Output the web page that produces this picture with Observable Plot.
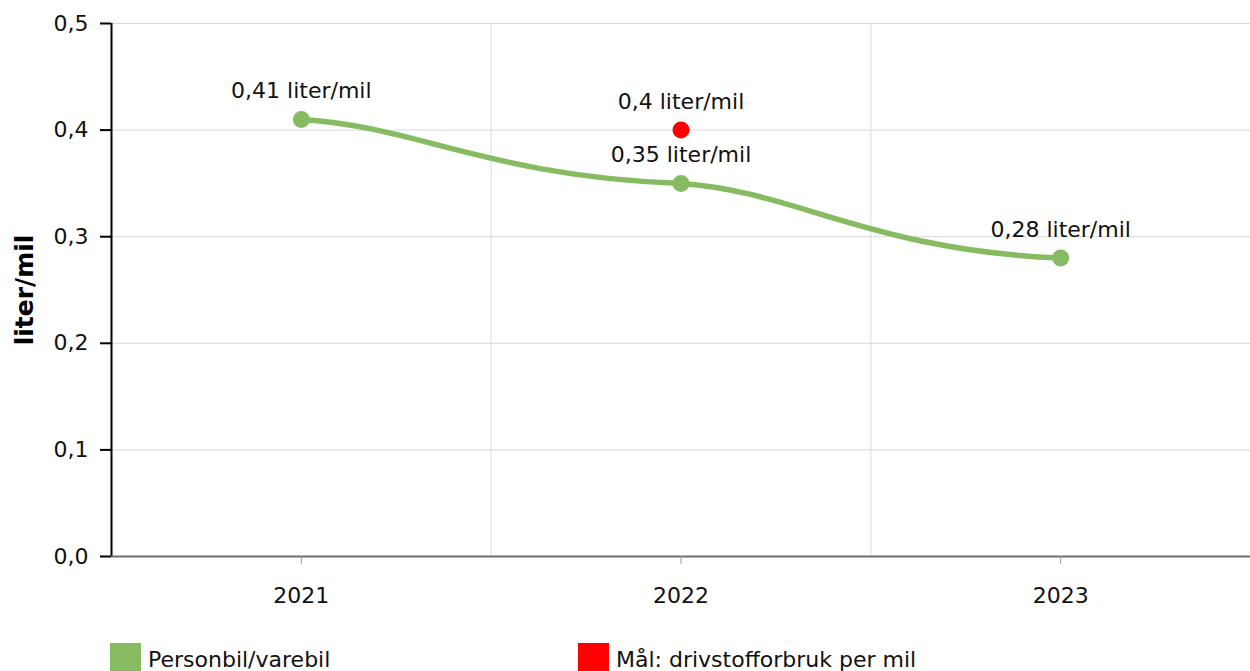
<!DOCTYPE html>
<html>
<head>
<meta charset="utf-8">
<script src="https://cdn.jsdelivr.net/npm/d3@7"></script>
<script src="https://cdn.jsdelivr.net/npm/@observablehq/plot@0.6"></script>
<style>
  body { margin: 0; background: #fff; font-family: "DejaVu Sans", Verdana, sans-serif; }
  #chart svg { display: block; }
  .legend { display: flex; padding-left: 110px; margin-top: 3px; font-size: 22px; color: #111; }
  .item { display: flex; align-items: flex-start; }
  .item:first-child { width: 468px; }
  .sw { width: 31px; height: 30px; margin-right: 7px; }
  .lbl { line-height: 22px; padding-top: 6px; white-space: nowrap; }
</style>
</head>
<body>
<div id="chart"></div>
<div class="legend">
  <div class="item"><div class="sw" style="background:#86bb62"></div><div class="lbl" id="l1"></div></div>
  <div class="item"><div class="sw" style="background:#ff0000"></div><div class="lbl" id="l2"></div></div>
</div>
<script>
const years = [2021, 2022, 2023];
const personbil = [0.41, 0.35, 0.28];
const targetYears = [2022];
const targetValues = [0.40];
const yTicks = [0, 0.1, 0.2, 0.3, 0.4, 0.5];
const seriesName = "Personbil/varebil";
const targetName = "Mål: drivstofforbruk per mil";
const unitLabel = "liter/mil";

document.getElementById("l1").textContent = seriesName;
document.getElementById("l2").textContent = targetName;

const green = "#86bb62";
const red = "#ff0000";
const fmt = v => d3.format(".1f")(v).replace(".", ",");
const fmtLabel = v => String(v).replace(".", ",") + " " + unitLabel;

const series = years.map((y, i) => ({year: y, value: personbil[i]}));
const target = targetYears.map((y, i) => ({year: y, value: targetValues[i]}));
const bounds = years.slice(0, -1).map(y => y + 0.5);

// Smooth S-shaped segment curve (eased near each point)
class EaseCurve {
  constructor(context) { this._context = context; }
  areaStart() { this._line = 0; }
  areaEnd() { this._line = NaN; }
  lineStart() { this._p = null; this._first = true; }
  lineEnd() { if (this._line === 0) this._context.closePath(); }
  point(x, y) {
    x = +x; y = +y;
    const ctx = this._context;
    if (this._first) {
      this._first = false;
      if (this._line === 0) ctx.lineTo(x, y); else ctx.moveTo(x, y);
    } else {
      const [x0, y0] = this._p, dx = x - x0, dy = y - y0;
      ctx.bezierCurveTo(x0 + 0.3 * dx, y0 + 0.1 * dy, x - 0.5 * dx, y - 0.1 * dy, x, y);
    }
    this._p = [x, y];
  }
}
const easeCurve = ctx => new EaseCurve(ctx);

const plot = Plot.plot({
  width: 1250,
  height: 640,
  marginLeft: 111,
  marginRight: 0,
  marginTop: 23,
  marginBottom: 84,
  style: {fontFamily: "DejaVu Sans, Verdana, sans-serif", fontSize: "22px", color: "#111", background: "#fff"},
  x: {type: "linear", domain: [years[0] - 0.5, years[years.length - 1] + 0.5], axis: null},
  y: {domain: [0, 0.5], axis: null},
  marks: [
    Plot.gridY(yTicks, {stroke: "#d9d9d9", strokeOpacity: 1, strokeWidth: 1}),
    Plot.ruleX(bounds, {stroke: "#dcdcdc", strokeWidth: 1}),
    Plot.axisY({ticks: yTicks, tickFormat: fmt, tickSize: 11, tickPadding: 12, stroke: "#000", strokeWidth: 2, fontSize: 22, label: null}),
    Plot.ruleX([years[0] - 0.5], {stroke: "#000", strokeWidth: 2}),
    Plot.ruleY([0], {stroke: "#6e6e6e", strokeWidth: 2}),
    Plot.axisX({ticks: years, tickFormat: d => String(d), tickSize: 8, tickPadding: 23, stroke: "#999", fontSize: 22, label: null}),
    Plot.line(series, {x: "year", y: "value", stroke: green, strokeWidth: 5.5, curve: easeCurve}),
    Plot.dot(series, {x: "year", y: "value", r: 8.5, fill: green}),
    Plot.dot(target, {x: "year", y: "value", r: 8.5, fill: red}),
    Plot.text(series, {x: "year", y: "value", text: d => fmtLabel(d.value), dy: -21, lineAnchor: "bottom", fontSize: 22, fill: "#111"}),
    Plot.text(target, {x: "year", y: "value", text: d => fmtLabel(d.value), dy: -21, lineAnchor: "bottom", fontSize: 22, fill: "#111"}),
    Plot.text([unitLabel], {frameAnchor: "left", textAnchor: "middle", rotate: -90, dx: -87, dy: 0, fontWeight: "bold", fontSize: 25, fill: "#000"})
  ]
});
document.getElementById("chart").appendChild(plot);
</script>
</body>
</html>
